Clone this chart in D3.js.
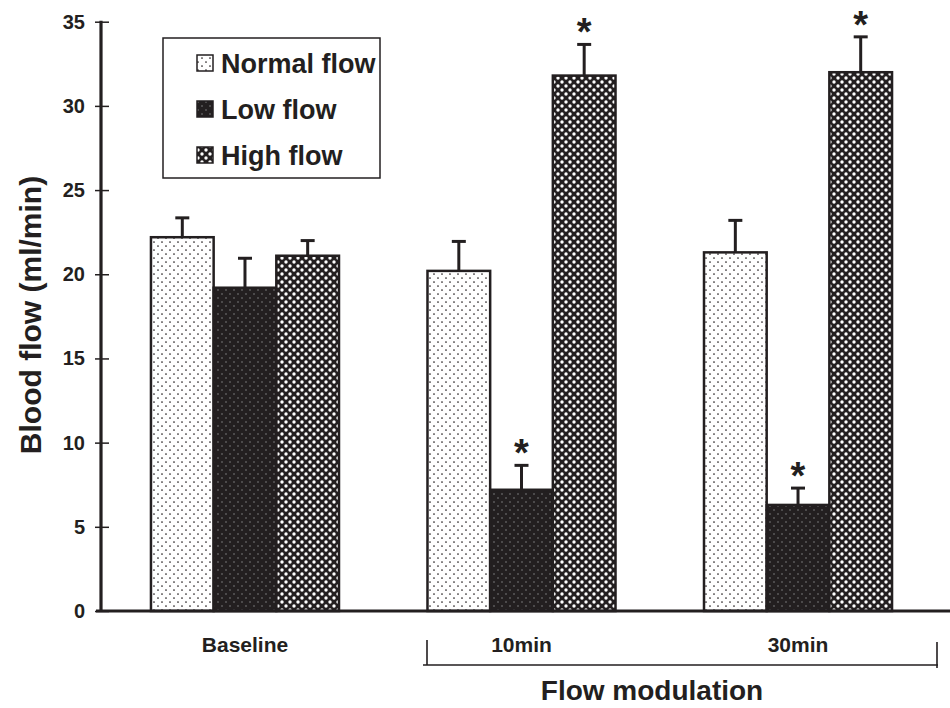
<!DOCTYPE html>
<html>
<head>
<meta charset="utf-8">
<script src="https://cdn.jsdelivr.net/npm/d3@7"></script>
<style>
  html, body { margin: 0; padding: 0; background: #fff; }
  svg { display: block; }
  text { font-family: "Liberation Sans", Arial, Helvetica, sans-serif; font-weight: bold; fill: #231f20; }
</style>
</head>
<body>
<svg id="chart" width="950" height="708"></svg>
<script>
// ---- data ----
const groups = ["Baseline", "10min", "30min"];
const seriesNames = ["Normal flow", "Low flow", "High flow"];
const normalMean = [22.2, 20.2, 21.3];
const normalErr  = [1.15, 1.75, 1.9];
const lowMean    = [19.2, 7.2, 6.3];
const lowErr     = [1.75, 1.45, 1.0];
const highMean   = [21.1, 31.8, 32.0];
const highErr    = [0.9, 1.85, 2.1];
const lowSig     = [false, true, true];
const highSig    = [false, true, true];
const normalSig  = [false, false, false];
const yTicks     = [0, 5, 10, 15, 20, 25, 30, 35];
const yTitle     = "Blood flow (ml/min)";
const xTitle     = "Flow modulation";

const INK = "#231f20";
const svg = d3.select("#chart");

// ---- patterns ----
const defs = svg.append("defs");
function pattern(id, bg, dot, r) {
  const p = defs.append("pattern").attr("id", id)
    .attr("patternUnits", "userSpaceOnUse").attr("width", 8).attr("height", 8);
  p.append("rect").attr("width", 8).attr("height", 8).attr("fill", bg);
  [[2, 2], [6, 6]].forEach(([cx, cy]) =>
    p.append("circle").attr("cx", cx).attr("cy", cy).attr("r", r).attr("fill", dot));
}
pattern("pNormal", "#ffffff", INK, 0.85);
pattern("pLow", INK, "#8a8a8a", 0.75);
pattern("pHigh", INK, "#ffffff", 1.7);
const fills = ["url(#pNormal)", "url(#pLow)", "url(#pHigh)"];

// ---- scales ----
const y = d3.scaleLinear().domain([0, 35]).range([611, 21.7]);
const x0 = d3.scaleBand().domain(groups).range([107, 936]).paddingInner(0.32).paddingOuter(0.159);
const x1 = d3.scaleBand().domain(seriesNames).range([0, x0.bandwidth()]).padding(0);

const rows = seriesNames.map((s, si) => {
  const m = [normalMean, lowMean, highMean][si];
  const e = [normalErr, lowErr, highErr][si];
  const sg = [normalSig, lowSig, highSig][si];
  return groups.map((g, gi) => ({ group: g, series: s, si, mean: m[gi], err: e[gi], sig: sg[gi] }));
}).flat();

// ---- bars ----
const bars = svg.append("g");
bars.selectAll("rect").data(rows).join("rect")
  .attr("x", d => x0(d.group) + x1(d.series))
  .attr("y", d => y(d.mean))
  .attr("width", x1.bandwidth())
  .attr("height", d => y(0) - y(d.mean))
  .attr("fill", d => fills[d.si])
  .attr("stroke", INK).attr("stroke-width", 2.5);

// ---- error bars ----
const eb = svg.append("g").attr("stroke", INK).attr("stroke-width", 3);
rows.forEach(d => {
  const cx = x0(d.group) + x1(d.series) + x1.bandwidth() / 2;
  eb.append("line").attr("x1", cx).attr("x2", cx).attr("y1", y(d.mean)).attr("y2", y(d.mean + d.err));
  eb.append("line").attr("x1", cx - 7).attr("x2", cx + 7).attr("y1", y(d.mean + d.err)).attr("y2", y(d.mean + d.err));
});

// ---- significance stars ----
svg.append("g").selectAll("text").data(rows.filter(d => d.sig)).join("text")
  .attr("x", d => x0(d.group) + x1(d.series) + x1.bandwidth() / 2)
  .attr("y", d => y(d.mean + d.err) + 1)
  .attr("text-anchor", "middle")
  .style("font-size", "38px")
  .text("*");

// ---- y axis ----
const yAxis = svg.append("g").attr("transform", "translate(101,0)")
  .call(d3.axisLeft(y).tickValues(yTicks).tickSize(6).tickPadding(10).tickFormat(d3.format("d")));
yAxis.select(".domain").remove();
yAxis.selectAll(".tick line").attr("x1", 8).attr("x2", -6).attr("stroke", INK).attr("stroke-width", 1.5);
yAxis.selectAll(".tick text").style("font-size", "20px").attr("fill", INK)
  .style("font-family", '"Liberation Sans", Arial, sans-serif').style("font-weight", "bold");
svg.append("line").attr("x1", 101).attr("x2", 101).attr("y1", y(35) - 1).attr("y2", y(0) + 1)
  .attr("stroke", INK).attr("stroke-width", 3.2);

// ---- x axis line ----
svg.append("line").attr("x1", 96).attr("x2", 950).attr("y1", y(0)).attr("y2", y(0))
  .attr("stroke", INK).attr("stroke-width", 3.2);

// ---- x category labels ----
svg.append("g").selectAll("text").data(groups).join("text")
  .attr("x", d => x0(d) + x0.bandwidth() / 2)
  .attr("y", 652)
  .attr("text-anchor", "middle")
  .style("font-size", "21px")
  .text(d => d);

// ---- bracket under 10min/30min ----
svg.append("path")
  .attr("d", "M427,640V665M423,665H938M937,642V668")
  .attr("fill", "none").attr("stroke", INK).attr("stroke-width", 1.6);

// ---- axis titles ----
svg.append("text").attr("x", 652).attr("y", 700).attr("text-anchor", "middle")
  .style("font-size", "28px").text(xTitle);
svg.append("text").attr("transform", "translate(41,315) rotate(-90)").attr("text-anchor", "middle")
  .style("font-size", "30px").text(yTitle);

// ---- legend ----
const lg = svg.append("g");
lg.append("rect").attr("x", 163).attr("y", 38).attr("width", 217).attr("height", 140)
  .attr("fill", "#fff").attr("stroke", INK).attr("stroke-width", 1.5);
const legendY = [63, 109, 155];
seriesNames.forEach((s, i) => {
  lg.append("rect").attr("x", 197).attr("y", legendY[i] - 8).attr("width", 16).attr("height", 16)
    .attr("fill", fills[i]).attr("stroke", INK).attr("stroke-width", 1.5);
  lg.append("text").attr("x", 221).attr("y", legendY[i]).attr("dy", "0.36em")
    .style("font-size", "27px").text(s);
});
</script>
</body>
</html>
